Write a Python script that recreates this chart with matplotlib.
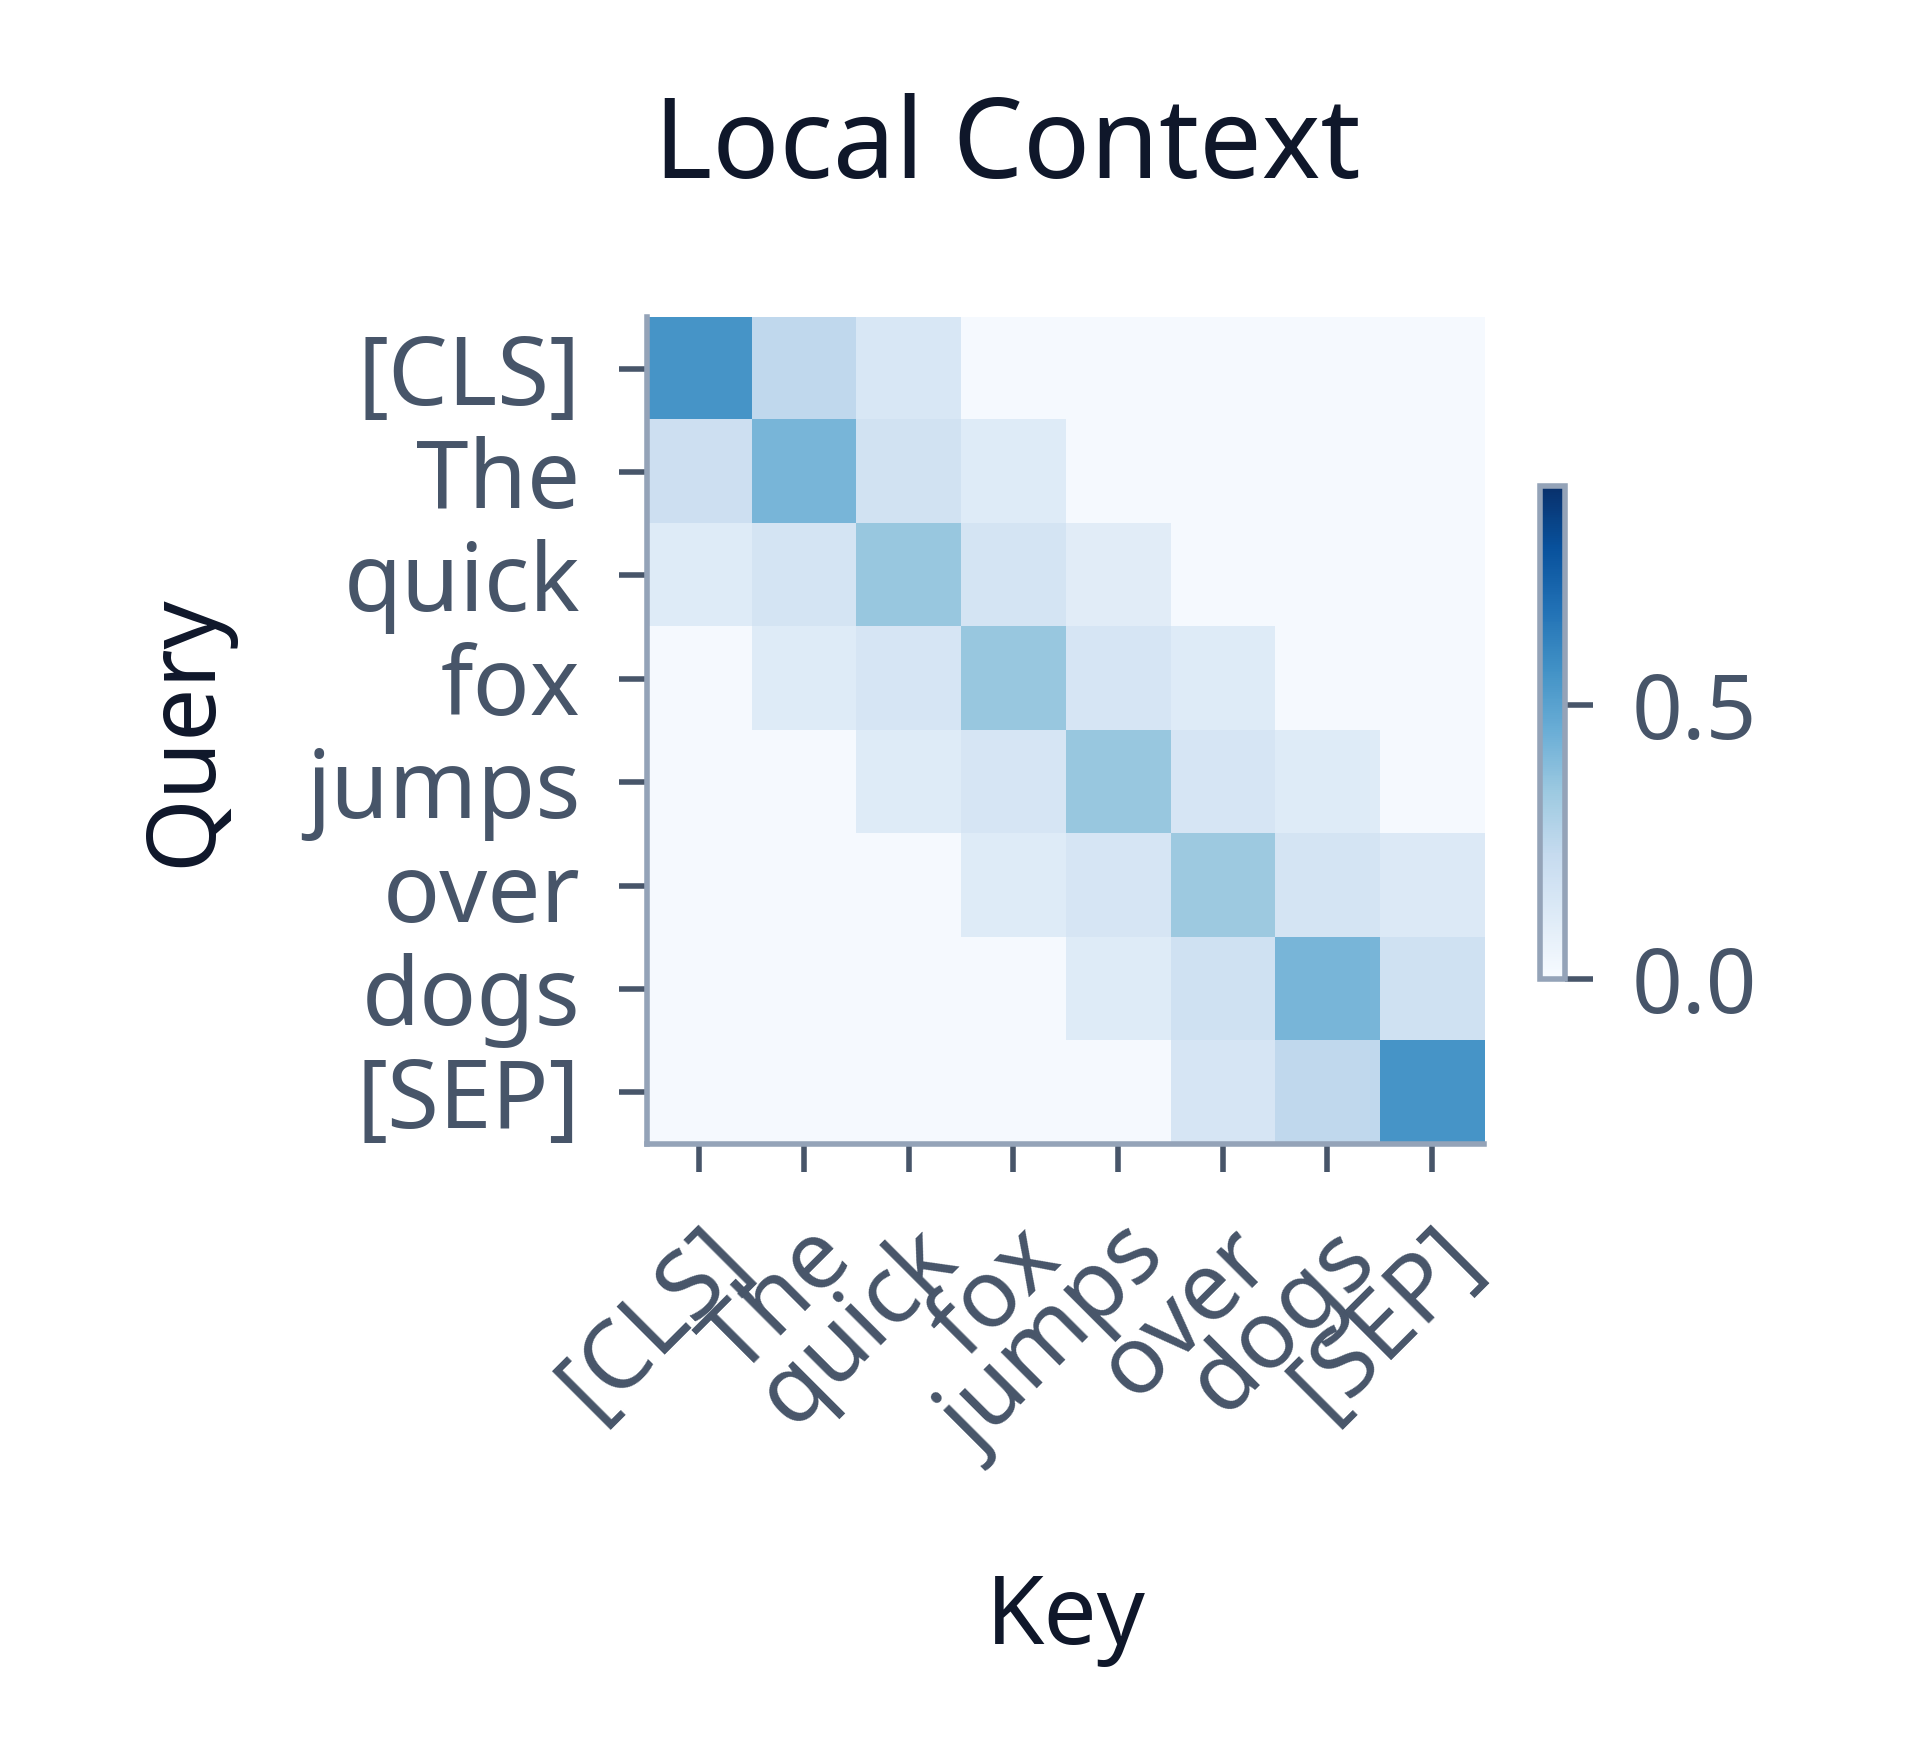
import matplotlib
matplotlib.use("Agg")
import matplotlib.pyplot as plt
import numpy as np

tokens = ["[CLS]", "The", "quick", "fox", "jumps", "over", "dogs", "[SEP]"]
row_cls   = [0.55, 0.24, 0.14, 0.01, 0.01, 0.01, 0.01, 0.01]
row_the   = [0.19, 0.42, 0.17, 0.11, 0.01, 0.01, 0.01, 0.01]
row_quick = [0.11, 0.16, 0.35, 0.16, 0.10, 0.01, 0.01, 0.01]
row_fox   = [0.01, 0.11, 0.15, 0.35, 0.15, 0.11, 0.01, 0.01]
row_jumps = [0.01, 0.01, 0.11, 0.15, 0.35, 0.15, 0.11, 0.01]
row_over  = [0.01, 0.01, 0.01, 0.11, 0.15, 0.34, 0.16, 0.12]
row_dogs  = [0.01, 0.01, 0.01, 0.01, 0.11, 0.18, 0.42, 0.18]
row_sep   = [0.01, 0.01, 0.01, 0.01, 0.01, 0.15, 0.24, 0.55]
data = np.array([row_cls, row_the, row_quick, row_fox, row_jumps, row_over, row_dogs, row_sep])

plt.rcParams['font.family'] = ['Noto Sans', 'DejaVu Sans']
tc = "#475569"; sc = "#94a3b8"
fig = plt.figure(figsize=(9.6, 8.8), dpi=200)
ax = fig.add_axes([0.337, 0.35, 0.436, 0.47])
im = ax.imshow(data, cmap="Blues", vmin=0, vmax=0.9, aspect="auto")
ax.set_xticks(range(len(tokens)))
ax.set_xticklabels(tokens, rotation=45, ha="right", rotation_mode="anchor")
ax.set_yticks(range(len(tokens)))
ax.set_yticklabels(tokens)
ax.tick_params(colors=tc, labelsize=34, length=10, width=2, pad=14)
for s in ["top", "right"]:
    ax.spines[s].set_visible(False)
for s in ["left", "bottom"]:
    ax.spines[s].set_color(sc); ax.spines[s].set_linewidth(2)
ax.set_xlabel("Key", fontsize=34, color="#0f172a", labelpad=36)
ax.set_ylabel("Query", fontsize=34, color="#0f172a", labelpad=26)
ax.set_title("Local Context", fontsize=40, color="#0f172a", pad=50, x=0.43)

cax = fig.add_axes([0.802, 0.444, 0.013, 0.28])
cb = fig.colorbar(im, cax=cax, ticks=[0.0, 0.5])
cb.ax.tick_params(colors=tc, labelsize=32, length=10, width=2, pad=14)
cb.outline.set_edgecolor(sc); cb.outline.set_linewidth(2)
cb.ax.set_yticklabels(["0.0", "0.5"])
fig.savefig("out.png", dpi=200, facecolor="white")
